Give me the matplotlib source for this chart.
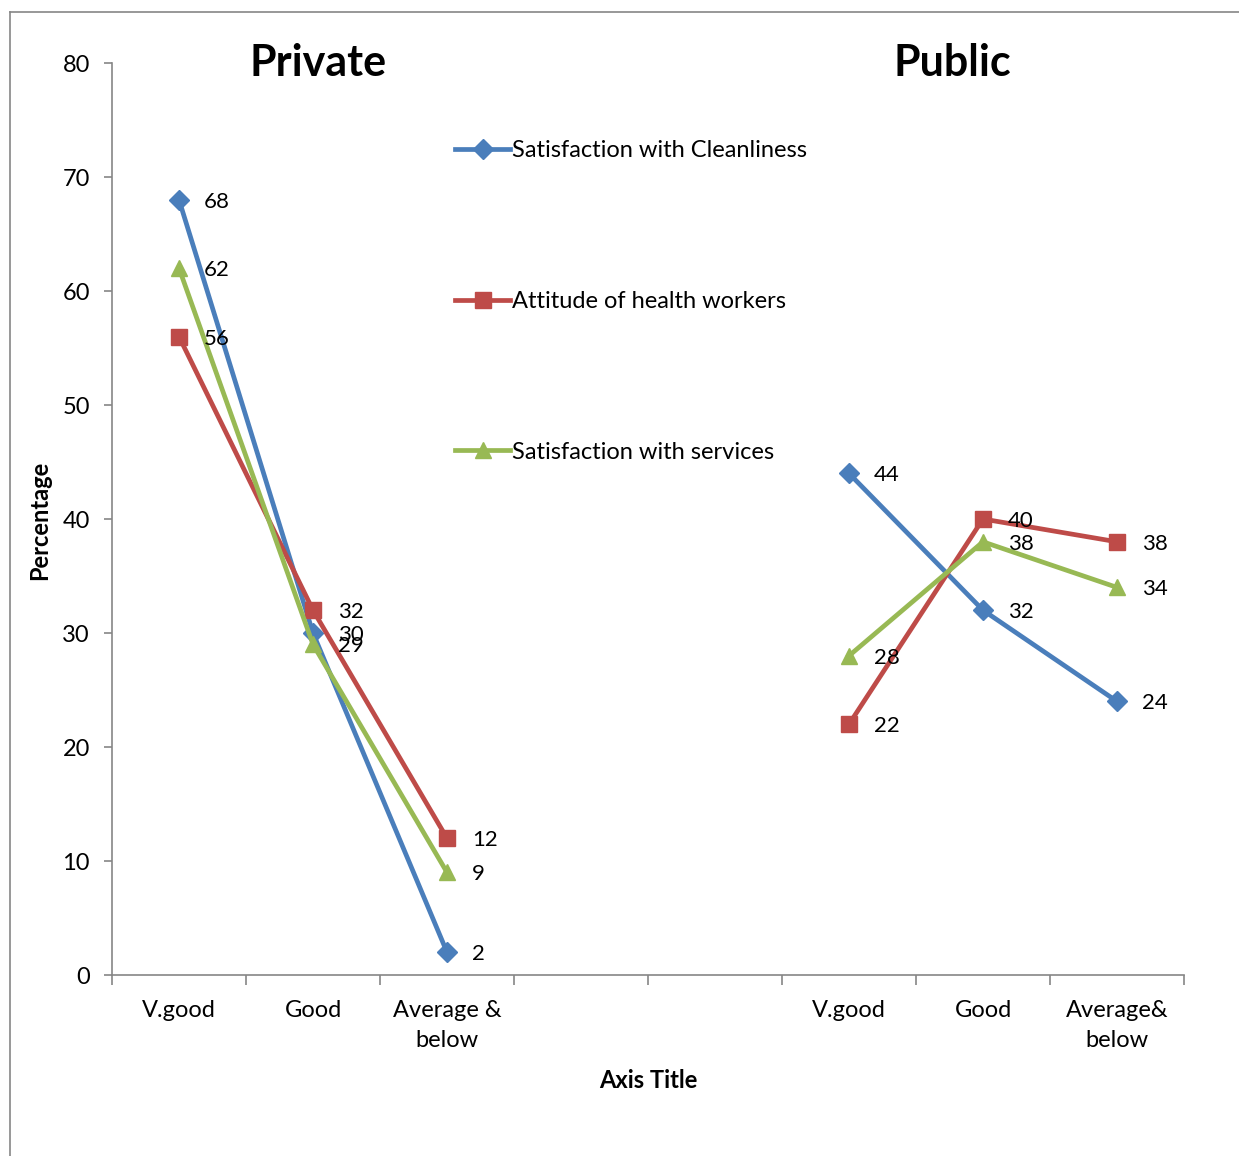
import numpy as np
import matplotlib
matplotlib.use('Agg')
import matplotlib.pyplot as plt
from matplotlib.lines import Line2D

plt.rcParams['font.family'] = ['Lato', 'DejaVu Sans']

categories = ['V.good', 'Good', 'Average &\nbelow', '', '', 'V.good', 'Good', 'Average&\nbelow']
cleanliness = [68, 30, 2, np.nan, np.nan, 44, 32, 24]
attitude = [56, 32, 12, np.nan, np.nan, 22, 40, 38]
services = [62, 29, 9, np.nan, np.nan, 28, 38, 34]

series = [
    ('Satisfaction with Cleanliness', cleanliness, '#4A7EBB', 'D', 10),
    ('Attitude of health workers', attitude, '#BE4B48', 's', 11),
    ('Satisfaction with services', services, '#98B954', '^', 12),
]

W, H = 1239, 1156
fig = plt.figure(figsize=(W / 100, H / 100), dpi=100)
ax = fig.add_axes([112 / W, 181 / H, (1184 - 112) / W, (975 - 63) / H])

x = np.arange(len(categories))
for name, vals, color, marker, ms in series:
    ax.plot(x, vals, color=color, lw=3.4, marker=marker, markersize=ms,
            markeredgecolor=color, label=name, clip_on=False)
    for xi, v in zip(x, vals):
        if not np.isnan(v):
            ax.annotate(f'{v:g}', (xi, v), xytext=(18, -1.5), textcoords='offset points',
                        ha='left', va='center', fontsize=16, color='black')

ax.set_xlim(-0.5, len(categories) - 0.5)
ax.set_ylim(0, 80)
ax.set_yticks(range(0, 81, 10))
ax.set_xticks(np.arange(-0.5, len(categories), 1))
ax.set_xticklabels([])
ax.set_xticks(x, minor=True)
ax.set_xticklabels(categories, minor=True, fontsize=17, linespacing=1.55)
ax.tick_params(axis='x', which='minor', length=0, pad=18)
ax.tick_params(axis='x', which='major', length=7, width=1.2, color='#868686', direction='out')
ax.tick_params(axis='y', length=6, width=1.2, color='#868686', labelsize=17, pad=10)

for side in ('top', 'right'):
    ax.spines[side].set_visible(False)
for side in ('left', 'bottom'):
    ax.spines[side].set_color('#868686')
    ax.spines[side].set_linewidth(1.2)

ax.set_xlabel('Axis Title', fontsize=17, fontweight='bold', labelpad=13)
fig.text(40 / W, 1 - 520 / H, 'Percentage', rotation=90, ha='center', va='center',
         fontsize=17, fontweight='bold')

fig.text(318 / W, 1 - 63 / H, 'Private', ha='center', va='center', fontsize=31, fontweight='bold')
fig.text(952 / W, 1 - 63 / H, 'Public', ha='center', va='center', fontsize=31, fontweight='bold')

fig.legend(loc='upper left', bbox_to_anchor=(455 / W, 1 - 140 / H), frameon=False,
           fontsize=17, handlelength=2.35, handletextpad=0.08, labelspacing=5.5,
           borderpad=0, borderaxespad=0)

# outer chart frame
fig.add_artist(Line2D([10 / W, 10 / W], [0, 1 - 12 / H], color='#868686', lw=1.2,
                      transform=fig.transFigure))
fig.add_artist(Line2D([10 / W, 1], [1 - 12 / H, 1 - 12 / H], color='#868686', lw=1.2,
                      transform=fig.transFigure))

fig.savefig('out.png', dpi=100)
